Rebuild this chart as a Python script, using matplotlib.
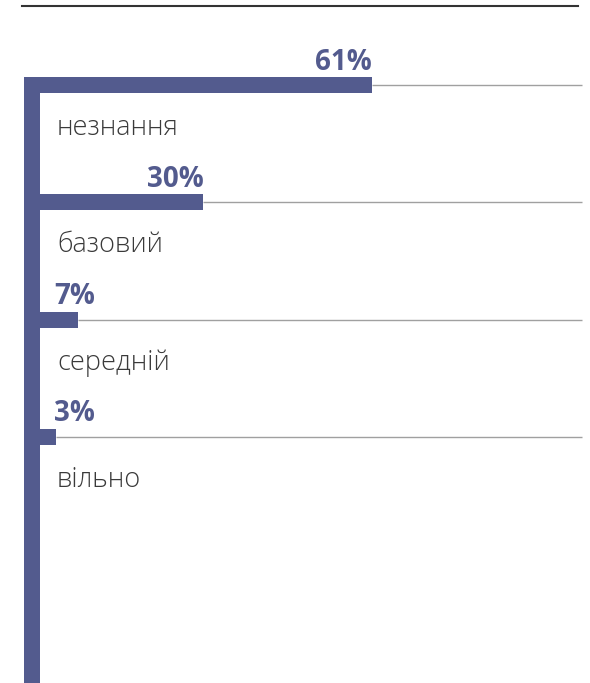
import matplotlib.pyplot as plt
from matplotlib.lines import Line2D

categories = ['незнання', 'базовий', 'середній', 'вільно']
values = [61, 30, 7, 3]
labels = ['61%', '30%', '7%', '3%']

bar_color = '#535b8e'
text_color = '#3a3a3a'

W, H = 590, 683
px_per_pct = 332 / 61      # pixels for one percent
row_px = 117.3             # distance between rows in pixels
first_row_px = 85          # centre of first bar from top

fig = plt.figure(figsize=(W / 100, H / 100), dpi=100)
ax = fig.add_axes([0, 0, 1, 1])
x0 = -40 / px_per_pct
ax.set_xlim(x0, x0 + W / px_per_pct)
ax.set_ylim((H - first_row_px) / row_px, -first_row_px / row_px)
ax.axis('off')

bar_h = 16 / row_px
ys = list(range(len(categories)))

# thin grey guide lines from bar end to the right edge
ax.hlines(ys, values, 99.6, color='#a0a0a0', lw=1.0, zorder=1)
ax.barh(ys, values, height=bar_h, color=bar_color, zorder=2)

# vertical thick axis bar on the left
spine_w = 16 / px_per_pct
ax.bar(-spine_w / 2, 10, width=spine_w, bottom=-bar_h / 2,
       color=bar_color, zorder=2)

for y, v, lab, cat in zip(ys, values, labels, categories):
    if v > 20:
        ax.text(v, y - 23 / row_px, lab, ha='right', va='center',
                fontsize=20, fontweight='bold', color=bar_color,
                family='Open Sans')
    else:
        ax.text(14 / px_per_pct, y - 23 / row_px, lab, ha='left', va='center',
                fontsize=20, fontweight='bold', color=bar_color,
                family='Open Sans')
    ax.text(17 / px_per_pct, y + 43 / row_px, cat, ha='left', va='center',
            fontsize=19.5, fontweight='light', color=text_color,
            family='Open Sans')

# rule across the top
fig.add_artist(Line2D([22 / W, 578 / W], [1 - 6 / H, 1 - 6 / H],
                      color='#333333', lw=1.5))

fig.savefig('out.png', dpi=100)
